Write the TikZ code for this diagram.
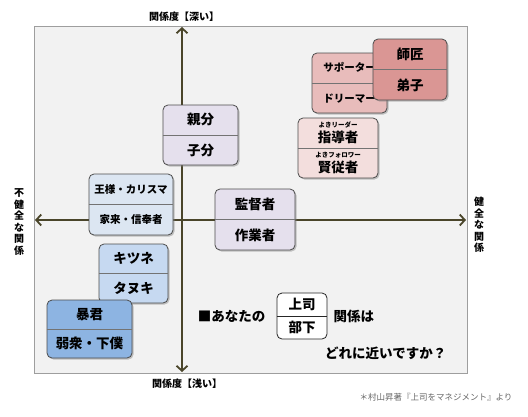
\documentclass[tikz,border=0pt]{standalone}
\usepackage{fontspec}
\setmainfont{Noto Sans CJK JP}
\usetikzlibrary{arrows.meta, positioning, calc, shadows}
\definecolor{axiscol}{RGB}{74,69,42}
\definecolor{redA}{RGB}{218,150,148}
\definecolor{redB}{RGB}{232,188,187}
\definecolor{redC}{RGB}{243,222,221}
\definecolor{lilac}{RGB}{229,224,237}
\definecolor{blueA}{RGB}{220,230,242}
\definecolor{blueB}{RGB}{198,217,241}
\definecolor{blueC}{RGB}{141,180,226}
\tikzset{
  plotframe/.style={draw=black!38, fill=black!5, line width=0.8pt},
  axis/.style={draw=axiscol, line width=1.8pt, {Straight Barb[length=5pt, width=11pt]}-{Straight Barb[length=5pt, width=11pt]}},
  pairbox/.style={draw=black!70, rounded corners=5pt, line width=0.8pt, drop shadow={opacity=0.45, shadow xshift=1.5pt, shadow yshift=-1.5pt}},
  askbox/.style={draw=black!85, fill=white, rounded corners=5pt, line width=0.8pt, minimum width=50, minimum height=46},
  divider/.style={draw=black!55, line width=0.6pt},
  boxtext/.style={font=\fontsize{13.5}{15}\selectfont\bfseries, inner sep=0pt, align=center},
  smalltext/.style={font=\fontsize{10.5}{12}\selectfont\bfseries, inner sep=0pt, align=center},
  asktext/.style={font=\fontsize{13.5}{15}\selectfont\bfseries, inner sep=0pt},
  axislabel/.style={font=\fontsize{10}{12}\selectfont\bfseries, inner sep=0pt},
  sidelabel/.style={font=\fontsize{10}{11.5}\selectfont\bfseries, align=center, inner sep=0pt},
  credit/.style={font=\fontsize{8.5}{10}\selectfont, text=black!60, inner sep=0pt},
}
\newcommand{\rubyfont}{\fontsize{6.5}{7}\selectfont}
% box with a dividing line and two texts
\newcommand{\pairbox}[8][boxtext]{%
  \node[pairbox, fill=#6, minimum width=#4, minimum height=#5] (#2) at (#3) {};
  \draw[divider] (#2.west) -- (#2.east);
  \node[#1] (#2-top) at ($(#2.center)!0.5!(#2.north)$) {#7};
  \node[#1] (#2-bot) at ($(#2.center)!0.5!(#2.south)$) {#8};
}

\begin{document}
\begin{tikzpicture}[x=1pt, y=-1pt]
  \useasboundingbox (0,0) rectangle (528,416);
  \node[plotframe, minimum width=433, minimum height=347] (board) at (250.5,199.5) {};

  \coordinate (ytop) at (182,27);
  \coordinate (ybot) at (182,372);
  \coordinate (xleft) at (35,220);
  \coordinate (xright) at (466,220);
  \draw[axis] (ybot) -- (ytop);
  \draw[axis] (xleft) -- (xright);

  \node[axislabel] (deep) at (184,17) {関係度【深い】};
  \node[axislabel] (shallow) at (187,384) {関係度【浅い】};
  \node[sidelabel] (bad) at (19,222) {不\\健\\全\\な\\関\\係};
  \node[sidelabel] (good) at (479,225) {健\\全\\な\\関\\係};

  \pairbox[smalltext]{supporter}{349.5,83}{75}{60}{redB}{サポーター}{ドリーマー}
  \pairbox{master}{410,69.5}{74}{61}{redA}{師匠}{弟子}
  \pairbox{leader}{338,148}{80}{60}{redC}{{\rubyfont よきリーダー}\\指導者}{{\rubyfont よきフォロワー}\\賢従者}
  \pairbox{boss}{200.5,135}{75}{60}{lilac}{親分}{子分}
  \pairbox[smalltext]{king}{131,204.5}{84}{61}{blueA}{王様・カリスマ}{家来・信奉者}
  \pairbox{director}{255,219.5}{80}{61}{lilac}{監督者}{作業者}
  \pairbox{fox}{133.5,273.5}{69}{59}{blueB}{キツネ}{タヌキ}
  \pairbox{tyrant}{89.5,329}{85}{58}{blueC}{暴君}{弱衆・下僕}

  \node[askbox] (you) at (302,316) {};
  \draw[draw=black!85, line width=0.6pt] (you.west) -- (you.east);
  \node[boxtext] (you-top) at ($(you.center)!0.5!(you.north)$) {上司};
  \node[boxtext] (you-bot) at ($(you.center)!0.5!(you.south)$) {部下};
  \node[asktext, left=11pt of you] (ask) {■あなたの};
  \node[asktext, right=6pt of you] (kind) {関係は};
  \node[asktext, anchor=west] (which) at (325,353) {どれに近いですか？};

  \node[credit] (source) at (436,397) {＊村山昇著『上司をマネジメント』より};
\end{tikzpicture}
\end{document}
